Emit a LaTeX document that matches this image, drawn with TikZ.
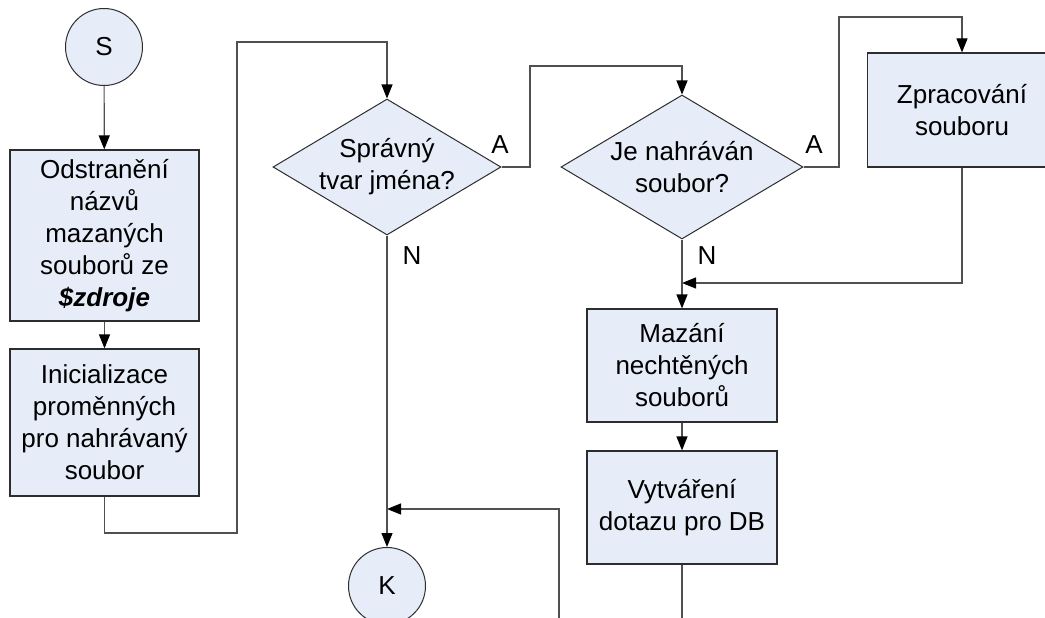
\documentclass[tikz,border=0pt]{standalone}
\usepackage{fontspec}
\setmainfont{Liberation Sans}
\usetikzlibrary{shapes.geometric,arrows.meta}
\definecolor{boxfill}{RGB}{230,236,248}
\definecolor{boxline}{RGB}{45,45,45}
\definecolor{wire}{RGB}{80,80,80}
\tikzset{
  txt/.style={font=\fontsize{26}{32}\selectfont, align=center, text=black},
  proc/.style={txt, draw=boxline, fill=boxfill, line width=1.2pt, rectangle, inner sep=0pt},
  term/.style={txt, draw=boxline, fill=boxfill, line width=1pt, circle, minimum size=77pt, inner sep=0pt},
  decision/.style={draw=boxline, fill=boxfill, line width=1pt, diamond, inner sep=0pt},
  wire/.style={draw=wire, line width=1.2pt},
  arr/.style={wire, -{Triangle[width=11pt,length=14pt,color=black]}},
  lbl/.style={txt}
}
\begin{document}
\begin{tikzpicture}[x=1pt,y=-1pt]
\useasboundingbox (0,0) rectangle (1045,618);
\clip (0,0) rectangle (1045,618);

% start and end terminals
\node[term] (S) at (104,47) {S};
\node[term] (K) at (387,586) {K};

% left column
\node[proc, minimum width=189pt, minimum height=171pt] (b1) at (104.5,235.5)
  {Odstranění\\názvů\\mazaných\\souborů ze\\\textbf{\textit{\$zdroje}}};
\node[proc, minimum width=189pt, minimum height=147pt] (b2) at (104.5,422.5)
  {Inicializace\\proměnných\\pro nahrávaný\\soubor};

% decisions: the outline is sized explicitly, the question sits on top
\node[decision, minimum width=228pt, minimum height=136pt] (D1) at (387,167) {};
\node[txt] (D1t) at (D1.center) {Správný\\tvar jména?};
\node[decision, minimum width=242pt, minimum height=144pt] (D2) at (682,167) {};
\node[txt] (D2t) at (D2.center) {Je nahráván\\soubor?};

% right processes
\node[proc, minimum width=189pt, minimum height=114pt] (Z) at (962,110)
  {Zpracování\\souboru};
\node[proc, minimum width=190pt, minimum height=113pt] (M) at (682,365.5)
  {Mazání\\nechtěných\\souborů};
\node[proc, minimum width=190pt, minimum height=113pt] (V) at (682,507.5)
  {Vytváření\\dotazu pro DB};

% routing points
\coordinate (r1) at (237,533);
\coordinate (r2) at (237,42);
\coordinate (j1) at (530,66);
\coordinate (j2) at (839,17);
\coordinate (m1) at (682,283);
\coordinate (v0) at (682,640);
\coordinate (k0) at (559,640);
\coordinate (k1) at (387,509);

% connectors
\draw[arr] (S) -- (b1);
\draw[arr] (b1) -- (b2);
\draw[arr] (b2.south) |- (r1) -- (r2) -| (D1.north);
\draw[arr] (D1.east) -| (j1) -| (D2.north);
\draw[arr] (D2.east) -| (j2) -| (Z.north);
\draw[arr] (Z.south) |- (m1);
\draw[arr] (D2.south) -- (M.north);
\draw[arr] (M) -- (V);
\draw[wire] (V.south) -- (v0);
\draw[arr] (k0) |- (k1);
\draw[arr] (D1.south) -- (K.north);

% branch labels
\node[lbl] (a1) at (500,145) {A};
\node[lbl] (a2) at (814,145) {A};
\node[lbl] (n1) at (412,256) {N};
\node[lbl] (n2) at (707,256) {N};
\end{tikzpicture}
\end{document}
